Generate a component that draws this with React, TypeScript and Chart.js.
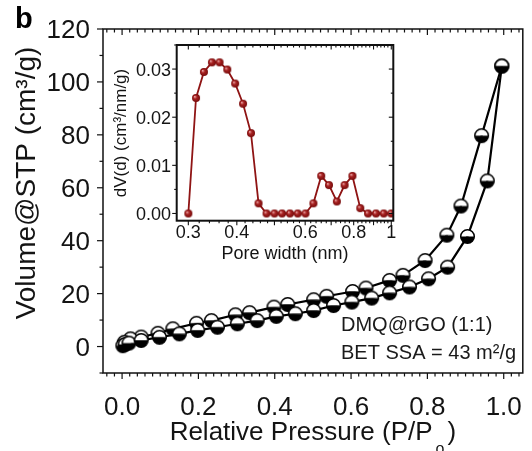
import React, { useEffect, useRef } from "react";
import { Chart, registerables } from "chart.js";
Chart.register(...registerables);

const FONT = '"Liberation Sans", Arial, Helvetica, sans-serif';

// ---- main isotherm ----
const desorptionP = [0.995, 0.942, 0.888, 0.851, 0.794, 0.736, 0.701, 0.639, 0.604, 0.536, 0.502, 0.434, 0.398, 0.334, 0.297, 0.234, 0.195, 0.133, 0.094, 0.05, 0.022, 0.006];
const desorptionV = [106.0, 79.7, 53.1, 42.1, 32.5, 26.9, 25.0, 22.1, 20.8, 19.0, 17.7, 15.9, 14.9, 12.8, 12.0, 9.8, 8.8, 6.7, 5.0, 3.6, 2.9, 1.6];
const adsorptionP = [0.002, 0.008, 0.018, 0.05, 0.098, 0.15, 0.198, 0.25, 0.302, 0.354, 0.404, 0.454, 0.502, 0.554, 0.602, 0.654, 0.701, 0.753, 0.803, 0.853, 0.905, 0.957, 0.995];
const adsorptionV = [0.3, 0.8, 1.3, 2.3, 3.5, 4.8, 6.1, 7.3, 8.6, 9.8, 11.4, 12.4, 13.6, 15.5, 16.8, 18.3, 20.3, 22.5, 25.6, 30.0, 41.6, 62.6, 106.0];
const mainXTicks = [0, 0.2, 0.4, 0.6, 0.8, 1.0];
const mainXTickLabels = ["0.0", "0.2", "0.4", "0.6", "0.8", "1.0"];
const mainYTicks = [0, 20, 40, 60, 80, 100, 120];
const mainYTickLabels = ["0", "20", "40", "60", "80", "100", "120"];
const sampleLabel = "DMQ@rGO (1:1)";
const betLabel = "BET SSA = 43 m²/g";

// ---- inset pore size distribution ----
const poreWidth = [0.3, 0.314, 0.329, 0.345, 0.361, 0.378, 0.396, 0.415, 0.435, 0.455, 0.477, 0.5, 0.523, 0.548, 0.574, 0.601, 0.63, 0.66, 0.691, 0.724, 0.758, 0.794, 0.832, 0.871, 0.913, 0.956, 1.0];
const poreDV = [0, 0.024, 0.0294, 0.0314, 0.0314, 0.0299, 0.027, 0.0228, 0.0167, 0.0021, 0, 0, 0, 0, 0, 0, 0.0021, 0.0078, 0.0059, 0.0025, 0.0059, 0.0078, 0.0011, 0, 0, 0, 0];
const insetXTicks = [0.3, 0.4, 0.6, 0.8, 1];
const insetXTickLabels = ["0.3", "0.4", "0.6", "0.8", "1"];
const insetYTicks = [0, 0.01, 0.02, 0.03];
const insetYTickLabels = ["0.00", "0.01", "0.02", "0.03"];

function makeHalfMarker(r: number): HTMLCanvasElement {
  const size = Math.ceil(r * 2 + 3);
  const c = document.createElement("canvas");
  c.width = size;
  c.height = size;
  const g = c.getContext("2d")!;
  const cx = size / 2, cy = size / 2;
  g.beginPath(); g.arc(cx, cy, r, Math.PI, 2 * Math.PI); g.closePath(); g.fillStyle = "#fff"; g.fill();
  g.beginPath(); g.arc(cx, cy, r, 0, Math.PI); g.closePath(); g.fillStyle = "#000"; g.fill();
  g.beginPath(); g.arc(cx, cy, r, 0, 2 * Math.PI); g.lineWidth = 1.5; g.strokeStyle = "#000"; g.stroke();
  return c;
}

function makeBall(r: number): HTMLCanvasElement {
  const size = Math.ceil(r * 2 + 2);
  const c = document.createElement("canvas");
  c.width = size; c.height = size;
  const g = c.getContext("2d")!;
  const cx = size / 2, cy = size / 2;
  const grad = g.createRadialGradient(cx - r * 0.35, cy - r * 0.35, 0.3, cx, cy, r);
  grad.addColorStop(0, "#e9a3a3");
  grad.addColorStop(0.4, "#a82222");
  grad.addColorStop(1, "#760b0b");
  g.beginPath(); g.arc(cx, cy, r, 0, 2 * Math.PI); g.fillStyle = grad; g.fill();
  return c;
}

function line(ctx: CanvasRenderingContext2D, x1: number, y1: number, x2: number, y2: number) {
  ctx.beginPath(); ctx.moveTo(x1, y1); ctx.lineTo(x2, y2); ctx.stroke();
}

const mainDecor = {
  id: "mainDecor",
  afterDraw(chart: any) {
    const { ctx, chartArea: a } = chart;
    const x = chart.scales.x, y = chart.scales.y;
    ctx.save();
    ctx.strokeStyle = "#111";
    ctx.lineWidth = 1.5;
    ctx.strokeRect(a.left, a.top, a.right - a.left, a.bottom - a.top);
    ctx.lineWidth = 1.2;
    for (let i = -2; i <= 52; i++) {
      const v = i * 0.02;
      const px = x.getPixelForValue(v);
      const major = i % 10 === 0;
      const len = major ? 6 : 3.5;
      line(ctx, px, a.bottom, px, a.bottom + len);
      line(ctx, px, a.top, px, a.top + len);
    }
    for (let v = -10; v <= 120; v += 10) {
      const py = y.getPixelForValue(v);
      const len = v % 20 === 0 ? 6 : 3.5;
      line(ctx, a.left - len, py, a.left, py);
    }
    ctx.fillStyle = "#141414";
    ctx.textBaseline = "alphabetic";
    ctx.font = `26px ${FONT}`;
    ctx.textAlign = "center";
    mainXTicks.forEach((v, i) => ctx.fillText(mainXTickLabels[i], x.getPixelForValue(v), 415));
    ctx.textAlign = "right";
    mainYTicks.forEach((v, i) => ctx.fillText(mainYTickLabels[i], 90, y.getPixelForValue(v) + 9.3));

    // x title with subscript
    const t1 = "Relative Pressure (P/P";
    ctx.font = `26px ${FONT}`;
    const w1 = ctx.measureText(t1).width;
    const wClose = ctx.measureText(")").width;
    ctx.font = `16px ${FONT}`;
    const wSub = ctx.measureText("o").width;
    const total = w1 + wSub + 6 + wClose;
    const x0 = (a.left + a.right) / 2 - total / 2;
    ctx.textAlign = "left";
    ctx.font = `26px ${FONT}`;
    ctx.fillText(t1, x0, 440);
    ctx.fillText(")", x0 + w1 + wSub + 6, 440);
    ctx.font = `16px ${FONT}`;
    ctx.fillText("o", x0 + w1 + 3, 454);

    // y title
    ctx.save();
    ctx.translate(35, 183);
    ctx.rotate(-Math.PI / 2);
    ctx.textAlign = "center";
    ctx.font = `28px ${FONT}`;
    ctx.fillText("Volume@STP (cm³/g)", 0, 0);
    ctx.restore();

    // panel label
    ctx.textAlign = "left";
    ctx.font = `bold 29px ${FONT}`;
    ctx.fillStyle = "#000";
    ctx.fillText("b", 15, 28);

    // annotations
    ctx.fillStyle = "#1a1a1a";
    ctx.font = `20px ${FONT}`;
    ctx.fillText(sampleLabel, 341, 331);
    ctx.fillText(betLabel, 341, 359);
    ctx.restore();
  },
};

const insetDecor = {
  id: "insetDecor",
  afterDraw(chart: any) {
    const { ctx, chartArea: a } = chart;
    const x = chart.scales.x, y = chart.scales.y;
    ctx.save();
    ctx.strokeStyle = "#111";
    ctx.lineWidth = 2;
    ctx.strokeRect(a.left, a.top, a.right - a.left, a.bottom - a.top);
    ctx.lineWidth = 1.1;
    for (let i = 15; i <= 50; i++) {
      const v = i * 0.02;
      const px = x.getPixelForValue(v);
      const major = i % 5 === 0;
      const len = major ? 4.5 : 2.5;
      line(ctx, px, a.bottom, px, a.bottom + len);
      line(ctx, px, a.top, px, a.top + len);
    }
    for (let k = 0; k <= 7; k++) {
      const v = k * 0.005;
      const py = y.getPixelForValue(v);
      const len = k % 2 === 0 ? 4.5 : 2.5;
      line(ctx, a.left - len, py, a.left, py);
      line(ctx, a.right - len, py, a.right, py);
    }
    ctx.fillStyle = "#141414";
    ctx.textBaseline = "alphabetic";
    ctx.font = `18px ${FONT}`;
    ctx.textAlign = "center";
    insetXTicks.forEach((v, i) => ctx.fillText(insetXTickLabels[i], x.getPixelForValue(v), 238));
    ctx.textAlign = "right";
    insetYTicks.forEach((v, i) => ctx.fillText(insetYTickLabels[i], 171, y.getPixelForValue(v) + 6.5));
    ctx.textAlign = "center";
    ctx.fillText("Pore width (nm)", (a.left + a.right) / 2, 259);
    ctx.save();
    ctx.translate(126, 133);
    ctx.rotate(-Math.PI / 2);
    ctx.font = `17px ${FONT}`;
    ctx.fillText("dV(d) (cm³/nm/g)", 0, 0);
    ctx.restore();
    ctx.restore();
  },
};

export default function App() {
  const mainRef = useRef<HTMLCanvasElement>(null);
  const insetRef = useRef<HTMLCanvasElement>(null);

  useEffect(() => {
    const marker = makeHalfMarker(6.8);
    const ball = makeBall(4);
    const main = new Chart(mainRef.current!, {
      type: "line",
      data: {
        datasets: [
          {
            data: adsorptionP.map((p, i) => ({ x: p, y: adsorptionV[i] })),
            borderColor: "#000",
            borderWidth: 2.2,
            pointStyle: marker as any,
            pointRadius: 7,
            tension: 0,
          },
          {
            data: desorptionP.map((p, i) => ({ x: p, y: desorptionV[i] })),
            borderColor: "#000",
            borderWidth: 2.2,
            pointStyle: marker as any,
            pointRadius: 7,
            tension: 0,
          },
        ],
      },
      options: {
        animation: false,
        responsive: false,
        layout: { padding: { left: 0, right: 4, top: 29, bottom: 0 } },
        plugins: { legend: { display: false }, tooltip: { enabled: false } },
        scales: {
          x: {
            type: "linear",
            min: -0.05,
            max: 1.05,
            grid: { display: false, drawTicks: false },
            border: { display: false },
            ticks: { display: false },
            afterFit: (s: any) => { s.height = 78; },
          },
          y: {
            type: "linear",
            min: -10,
            max: 120,
            grid: { display: false, drawTicks: false },
            border: { display: false },
            ticks: { display: false },
            afterFit: (s: any) => { s.width = 103; },
          },
        },
      },
      plugins: [mainDecor],
    });

    const inset = new Chart(insetRef.current!, {
      type: "line",
      data: {
        datasets: [
          {
            data: poreWidth.map((p, i) => ({ x: p, y: poreDV[i] })),
            borderColor: "#8f1414",
            borderWidth: 1.8,
            pointStyle: ball as any,
            pointRadius: 4,
            tension: 0,
          },
        ],
      },
      options: {
        animation: false,
        responsive: false,
        layout: { padding: { left: 110, right: 138.7, top: 45, bottom: 0 } },
        plugins: { legend: { display: false }, tooltip: { enabled: false } },
        scales: {
          x: {
            type: "logarithmic",
            min: 0.285,
            max: 1.012,
            grid: { display: false, drawTicks: false },
            border: { display: false },
            ticks: { display: false },
            afterFit: (s: any) => { s.height = 230.3; },
          },
          y: {
            type: "linear",
            min: -0.0015,
            max: 0.035,
            grid: { display: false, drawTicks: false },
            border: { display: false },
            ticks: { display: false },
            afterFit: (s: any) => { s.width = 66.7; },
          },
        },
      },
      plugins: [insetDecor],
    });

    return () => {
      main.destroy();
      inset.destroy();
    };
  }, []);

  return (
    <div style={{ position: "absolute", left: 0, top: 0, width: 532, height: 451, background: "#fff" }}>
      <canvas ref={mainRef} width={532} height={451} style={{ position: "absolute", left: 0, top: 0 }} />
      <canvas ref={insetRef} width={532} height={451} style={{ position: "absolute", left: 0, top: 0 }} />
    </div>
  );
}
